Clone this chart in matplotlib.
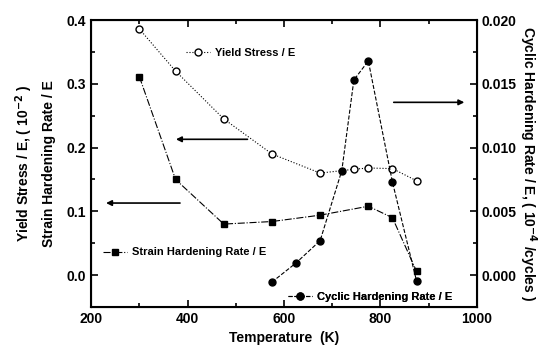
import numpy as np
import matplotlib
matplotlib.use('Agg')
import matplotlib.pyplot as plt
from matplotlib.ticker import MultipleLocator

plt.rcParams['font.family'] = ['Liberation Sans', 'DejaVu Sans']
plt.rcParams['font.weight'] = 'bold'

# data
yield_T = [300, 375, 475, 575, 675, 745, 775, 825, 875]
yield_E = [0.386, 0.320, 0.245, 0.190, 0.160, 0.166, 0.168, 0.167, 0.148]

strain_T = [300, 375, 475, 575, 675, 775, 825, 875]
strain_E = [0.311, 0.150, 0.080, 0.084, 0.094, 0.108, 0.090, 0.006]

cyclic_T = [575, 625, 675, 720, 745, 775, 825, 875]
cyclic_E = [-0.00055, 0.00095, 0.0027, 0.0082, 0.0153, 0.0168, 0.0073, -0.00045]

fig = plt.figure(figsize=(5.43, 3.59), dpi=100)
ax = fig.add_axes([0.168, 0.145, 0.710, 0.799])
ax2 = ax.twinx()

l1, = ax.plot(yield_T, yield_E, color='black', ls=':', lw=0.8, marker='o',
              mfc='white', mec='black', ms=5, mew=1)
l2, = ax.plot(strain_T, strain_E, color='black', ls='-.', lw=0.8, marker='s',
              mfc='black', mec='black', ms=4.5)
l3, = ax2.plot(cyclic_T, cyclic_E, color='black', ls='--', lw=0.8, marker='o',
               mfc='black', mec='black', ms=5)

ax.set_xlim(200, 1000)
ax.set_ylim(-0.05, 0.4)
ax2.set_ylim(-0.0025, 0.020)

ax.xaxis.set_major_locator(MultipleLocator(200))
ax.xaxis.set_minor_locator(MultipleLocator(100))
ax.yaxis.set_major_locator(MultipleLocator(0.1))
ax.yaxis.set_minor_locator(MultipleLocator(0.05))
ax2.yaxis.set_major_locator(MultipleLocator(0.005))
ax2.yaxis.set_minor_locator(MultipleLocator(0.0025))
ax.xaxis.set_major_formatter(plt.FuncFormatter(lambda v, p: '%d' % v))
ax.yaxis.set_major_formatter(plt.FuncFormatter(lambda v, p: '%.1f' % v))
ax2.yaxis.set_major_formatter(plt.FuncFormatter(lambda v, p: '%.3f' % v))

ax.tick_params(which='both', direction='in', top=True, labelsize=10, width=1.2)
ax.tick_params(which='major', length=5)
ax.tick_params(which='minor', length=3)
ax2.tick_params(which='both', direction='in', labelsize=10, width=1.2)
ax2.tick_params(which='major', length=5)
ax2.tick_params(which='minor', length=3)
for sp in ax.spines.values():
    sp.set_linewidth(1.5)

ax.set_xlabel('Temperature  (K)', fontsize=10, fontweight='bold')
ax.set_ylabel('Yield Stress / E, ( 10$^{\\mathbf{-2}}$ )\nStrain Hardening Rate / E',
              fontsize=10, fontweight='bold', linespacing=1.6, labelpad=8)
ax2.set_ylabel('Cyclic Hardening Rate / E, ( 10$^{\\mathbf{-4}}$ /cycles )',
               fontsize=10, fontweight='bold', rotation=270, labelpad=16)

# arrows pointing to axes
arr = dict(arrowstyle='-|>', color='black', lw=1.2, mutation_scale=8)
ax.annotate('', xy=(370, 0.213), xytext=(530, 0.213), arrowprops=arr)
ax.annotate('', xy=(225, 0.113), xytext=(390, 0.113), arrowprops=arr)
ax.annotate('', xy=(980, 0.271), xytext=(822, 0.271), arrowprops=arr)

# legend entries placed separately
kw = dict(frameon=False, prop={'size': 8, 'weight': 'bold'}, handlelength=2.2,
          handletextpad=0.4, borderpad=0, borderaxespad=0)
lg1 = ax.legend([l1], ['Yield Stress / E'], loc='center left',
                bbox_to_anchor=(0.245, 0.885), **kw)
lg2 = ax.legend([l2], ['Strain Hardening Rate / E'], loc='center left',
                bbox_to_anchor=(0.03, 0.19), **kw)
lg3 = ax.legend([l3], ['Cyclic Hardening Rate / E'], loc='center left',
                bbox_to_anchor=(0.51, 0.035), **kw)
ax.add_artist(lg1)
ax.add_artist(lg2)
ax.add_artist(lg3)

fig.savefig('out.png', dpi=100)
